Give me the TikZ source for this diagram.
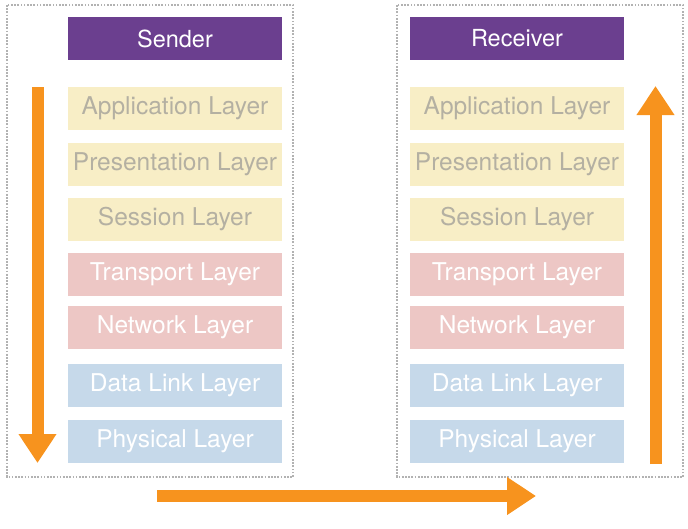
\documentclass[tikz,border=0pt]{standalone}
\usepackage{fontspec}
\setmainfont{TeX Gyre Heros}
\usetikzlibrary{arrows.meta}

\definecolor{hostpurple}{HTML}{6B3F8F}
\definecolor{upperyellow}{HTML}{F8EEC6}
\definecolor{middlepink}{HTML}{EDC7C5}
\definecolor{lowerblue}{HTML}{C6D9EA}
\definecolor{uppertext}{HTML}{B4B0A2}
\definecolor{flowarrow}{HTML}{F7931E}

\tikzset{
  layer/.style={minimum width=214pt,minimum height=43pt,inner sep=0pt,
    font=\fontsize{24.5}{28}\selectfont},
  host/.style={layer,fill=hostpurple,text=white,font=\fontsize{23.5}{27}\selectfont},
  upper/.style={layer,fill=upperyellow,text=uppertext},
  middle/.style={layer,fill=middlepink,text=white},
  lower/.style={layer,fill=lowerblue,text=white},
  frame/.style={gray!60,line width=1.7pt,dash pattern=on 1.7pt off 1.5pt},
  flow/.style={flowarrow,line width=12pt,-{Triangle[width=36pt,length=29pt]}}
}

\begin{document}
\begin{tikzpicture}[x=1pt,y=-1pt]
 \useasboundingbox (0,0) rectangle (688,528);
 % dotted frames round both stacks
 \draw[frame](7,5) rectangle (293,477);
 \draw[frame](397,5) rectangle (683,477);
 % sender stack
 \node[host]   (sender)   at (175,38.5) {Sender};
 \node[upper]  (sapp)     at (175,108.5) {Application Layer};
 \node[upper]  (spres)    at (175,164.5) {Presentation Layer};
 \node[upper]  (ssess)    at (175,219.5) {Session Layer};
 \node[middle] (strans)   at (175,274.5) {Transport Layer};
 \node[middle] (snet)     at (175,327.5) {Network Layer};
 \node[lower]  (slink)    at (175,385.5) {Data Link Layer};
 \node[lower]  (sphys)    at (175,441) {Physical Layer};
 % receiver stack
 \node[host]   (receiver) at (517,38.5) {Receiver};
 \node[upper]  (rapp)     at (517,108.5) {Application Layer};
 \node[upper]  (rpres)    at (517,164.5) {Presentation Layer};
 \node[upper]  (rsess)    at (517,219.5) {Session Layer};
 \node[middle] (rtrans)   at (517,274.5) {Transport Layer};
 \node[middle] (rnet)     at (517,327.5) {Network Layer};
 \node[lower]  (rlink)    at (517,385.5) {Data Link Layer};
 \node[lower]  (rphys)    at (517,441) {Physical Layer};
 % data flow
 \coordinate (downtop) at (37.5,87);
 \coordinate (downend) at (37.5,463);
 \coordinate (acrossstart) at (157,496);
 \coordinate (acrossend) at (536,496);
 \coordinate (upstart) at (655.5,464);
 \coordinate (upend) at (655.5,86);
 \draw[flow](downtop)--(downend);
 \draw[flow](acrossstart)--(acrossend);
 \draw[flow](upstart)--(upend);
\end{tikzpicture}
\end{document}
